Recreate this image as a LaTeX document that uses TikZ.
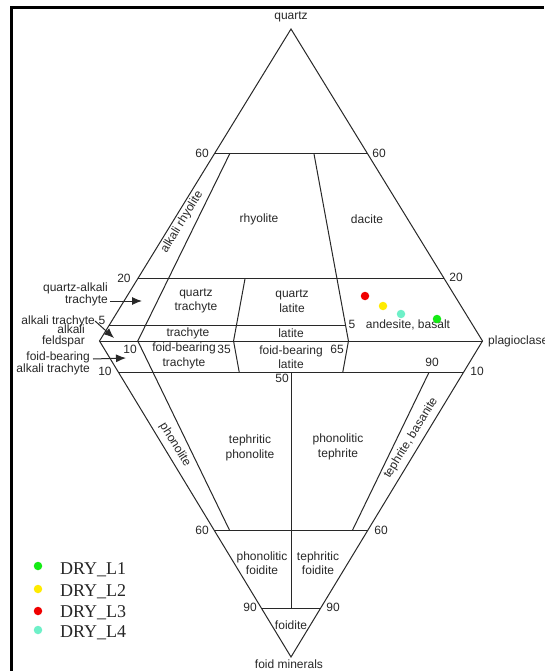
\documentclass[tikz,border=0pt]{standalone}
\usepackage{fontspec}
\setmainfont{Liberation Serif}
\setsansfont{Liberation Sans}
\usetikzlibrary{calc,arrows.meta}
\definecolor{cgreen}{RGB}{20,235,20}
\definecolor{cyellow}{RGB}{255,235,0}
\definecolor{cred}{RGB}{240,0,0}
\definecolor{ccyan}{RGB}{110,240,200}
\definecolor{ink}{RGB}{40,40,40}
\begin{document}
\begin{tikzpicture}[x=1pt,y=-1pt,
  edge/.style={draw=ink, line width=1pt, line join=miter},
  lbl/.style={font=\sffamily\fontsize{12}{14.5}\selectfont, text=ink, inner sep=0pt, align=center},
  sidelbl/.style={font=\sffamily\fontsize{12}{10.5}\selectfont, text=ink, inner sep=0pt, align=right, anchor=east},
  ptr/.style={-{Latex[length=10pt,width=8pt]}, line width=1pt, draw=ink},
  dot/.style={circle, inner sep=0pt, minimum size=8.5pt, fill=#1, draw=none},
  legtxt/.style={font=\fontsize{18}{18}\selectfont, anchor=base west, inner sep=0pt, text=black!85}
]
\useasboundingbox (0,0) rectangle (544,671);
\fill[white] (0,0) rectangle (544,671);
\draw[line width=2.5pt] (11.5,671) -- (11.5,7.3) -- (544,7.3);

% vertices
\coordinate (Q) at (291,29);
\coordinate (A) at (99.5,341);
\coordinate (P) at (482.5,341);
\coordinate (F) at (291,657);
% base points of ratio lines
\coordinate (b10) at ($(A)!0.10!(P)$);
\coordinate (b35) at ($(A)!0.35!(P)$);
\coordinate (b50) at ($(A)!0.50!(P)$);
\coordinate (b65) at ($(A)!0.65!(P)$);
\coordinate (b90) at ($(A)!0.90!(P)$);

% outline
\draw[edge] (A) -- (Q) -- (P) -- (F) -- cycle;
\draw[edge] (A) -- (P);
% horizontal lines
\draw[edge] ($(A)!0.6!(Q)$) -- ($(P)!0.6!(Q)$);
\draw[edge] ($(A)!0.2!(Q)$) -- ($(P)!0.2!(Q)$);
\draw[edge] ($(A)!0.05!(Q)$) -- ($(b65)!0.05!(Q)$);
\draw[edge] ($(A)!0.1!(F)$) -- ($(P)!0.1!(F)$);
\draw[edge] ($(A)!0.6!(F)$) -- ($(P)!0.6!(F)$);
\draw[edge] ($(A)!0.848!(F)$) -- ($(P)!0.848!(F)$);
% ratio lines
\draw[edge] ($(b10)!0.6!(Q)$) -- (b10) -- ($(b10)!0.6!(F)$);
\draw[edge] ($(b35)!0.2!(Q)$) -- (b35) -- ($(b35)!0.1!(F)$);
\draw[edge] ($(b65)!0.6!(Q)$) -- (b65) -- ($(b65)!0.1!(F)$);
\draw[edge] ($(b90)!0.1!(F)$) -- ($(b90)!0.6!(F)$);
\draw[edge] ($(b50)!0.1!(F)$) -- ($(b50)!0.848!(F)$);

% corner labels
\node[lbl] (lq) at (291,17) {quartz};
\node[lbl, anchor=west] (lp) at (488,341) {plagioclase};
\node[lbl] (lf) at (289,664) {foid minerals};

% numbers
\node[lbl] (n60l) at (202,153) {60};
\node[lbl] (n60r) at (379,153) {60};
\node[lbl] (n20l) at (124,278) {20};
\node[lbl] (n20r) at (456,277) {20};
\node[lbl] (n5l) at (102,320) {5};
\node[lbl] (n5r) at (352,324) {5};
\node[lbl] (n10a) at (130,349) {10};
\node[lbl] (n35) at (224,349) {35};
\node[lbl] (n65) at (337,349) {65};
\node[lbl] (n10l) at (105,371) {10};
\node[lbl] (n10r) at (477,371) {10};
\node[lbl] (n90a) at (432,362) {90};
\node[lbl] (n50) at (282,378) {50};
\node[lbl] (n60bl) at (202,530) {60};
\node[lbl] (n60br) at (381,530) {60};
\node[lbl] (n90l) at (250,607) {90};
\node[lbl] (n90r) at (333,607) {90};

% field labels
\node[lbl, rotate=58.5] (arhy) at (182,222) {alkali rhyolite};
\node[lbl] (rhy) at (259,219) {rhyolite};
\node[lbl] (dac) at (367,219) {dacite};
\node[lbl] (qtr) at (196,301) {quartz\\trachyte};
\node[lbl] (qla) at (292,301) {quartz\\latite};
\node[lbl] (tra) at (188,333) {trachyte};
\node[lbl] (lat) at (291,333) {latite};
\node[lbl] (fbt) at (184,356) {foid-bearing\\trachyte};
\node[lbl] (fbl) at (291,357) {foid-bearing\\latite};
\node[lbl] (anb) at (408,325) {andesite, basalt};
\node[lbl, rotate=-58.5] (pho) at (175,445) {phonolite};
\node[lbl] (tph) at (250,448) {tephritic\\phonolite};
\node[lbl] (pte) at (338,447) {phonolitic\\tephrite};
\node[lbl, rotate=58.5] (tba) at (411,438) {tephrite, basanite};
\node[lbl] (pfo) at (262,563) {phonolitic\\foidite};
\node[lbl] (tfo) at (318,563) {tephritic\\foidite};
\node[lbl] (foi) at (291,625) {foidite};

% side labels with pointers
\node[sidelbl] (qat) at (108,294) {quartz-alkali\\trachyte};
\coordinate (qatT) at (142,301);
\draw[ptr] (110,301) -- (qatT);
\node[sidelbl] (at) at (95,321) {alkali trachyte};
\coordinate (atT) at (114,338);
\draw[ptr] (at.east) -- (atT);
\node[sidelbl] (af) at (85,336) {alkali\\feldspar};
\node[sidelbl] (fbat) at (90,363) {foid-bearing\\alkali trachyte};
\coordinate (fbatT) at (126,358);
\draw[ptr] (93,359) -- (fbatT);

% data points
\node[dot=cred] (p3) at (365,296) {};
\node[dot=cyellow] (p2) at (383,306) {};
\node[dot=ccyan] (p4) at (401,314) {};
\node[dot=cgreen] (p1) at (437,319) {};

% legend
\node[dot=cgreen] (k1) at (38,566) {};
\node[dot=cyellow] (k2) at (38,589) {};
\node[dot=cred] (k3) at (38,611) {};
\node[dot=ccyan] (k4) at (38,630) {};
\node[legtxt] (t1) at (60,574) {DRY\_L1};
\node[legtxt] (t2) at (60,596) {DRY\_L2};
\node[legtxt] (t3) at (60,617) {DRY\_L3};
\node[legtxt] (t4) at (60,637) {DRY\_L4};
\end{tikzpicture}
\end{document}
